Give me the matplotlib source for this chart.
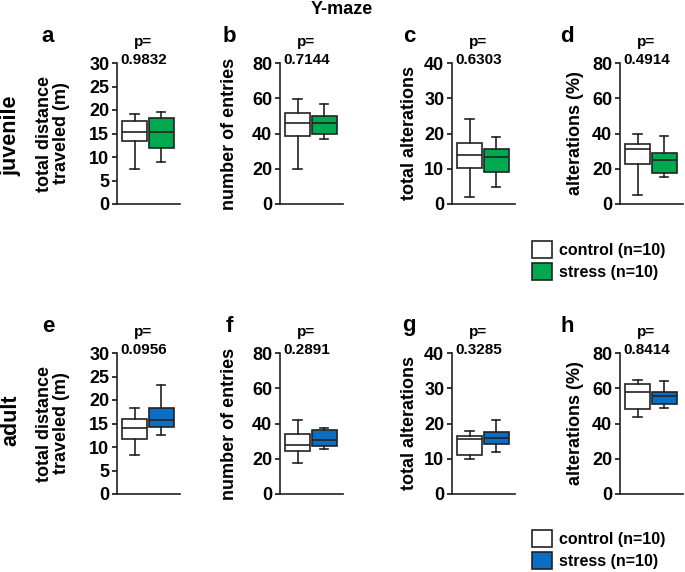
import matplotlib
matplotlib.use('Agg')
import matplotlib.pyplot as plt
from matplotlib.patches import Patch

plt.rcParams['font.family'] = ['Liberation Sans', 'DejaVu Sans']
plt.rcParams['font.weight'] = 'bold'

# box stats per measure: (whisker low, q1, median, q3, whisker high)
juvenile_control = [(7.5, 13.4, 15.4, 17.7, 19.1),
                    (19.8, 38.5, 46.2, 51.7, 59.8),
                    (2.0, 10.1, 13.9, 17.4, 24.0),
                    (5.1, 22.5, 31.1, 34.3, 40.0)]
juvenile_stress = [(9.0, 12.0, 15.3, 18.3, 19.5),
                   (36.8, 40.0, 46.2, 49.8, 57.0),
                   (4.9, 9.2, 13.4, 15.6, 18.9),
                   (15.5, 17.7, 25.0, 28.9, 38.7)]
adult_control = [(8.3, 11.7, 14.1, 15.9, 18.4),
                 (17.7, 24.5, 27.7, 34.2, 41.9),
                 (9.8, 11.0, 15.5, 16.4, 17.9),
                 (43.6, 48.3, 57.9, 62.6, 64.9)]
adult_stress = [(12.6, 14.2, 15.7, 18.3, 23.1),
                (25.8, 27.5, 30.9, 36.4, 37.7),
                (11.8, 14.1, 15.8, 17.5, 20.9),
                (48.9, 51.2, 55.5, 57.9, 64.0)]

p_juvenile = ['0.9832', '0.7144', '0.6303', '0.4914']
p_adult = ['0.0956', '0.2891', '0.3285', '0.8414']
measures = ['total distance\ntraveled (m)', 'number of entries',
            'total alterations', 'alterations (%)']
ymax = [30, 80, 40, 80]
ystep = [5, 20, 10, 20]
letters_juv = ['a', 'b', 'c', 'd']
letters_adult = ['e', 'f', 'g', 'h']

green = '#00a850'
blue = '#0a6fc2'

W, H = 685, 572
fig = plt.figure(figsize=(W / 100, H / 100), dpi=100)

lefts = [117, 280, 452, 620]
ylab_x = [53, 229, 410, 576]
letter_x = [48, 229, 409, 567]


def stats(t):
    lo, q1, med, q3, hi = t
    return dict(whislo=lo, q1=q1, med=med, q3=q3, whishi=hi, fliers=[])


def draw_row(top, ctrl, stress, color, pvals, letters, letter_y):
    for i in range(4):
        ax = fig.add_axes([lefts[i] / W, 1 - (top + 141) / H, 63 / W, 141 / H])
        bp = ax.bxp([stats(ctrl[i]), stats(stress[i])], positions=[1, 2],
                    widths=0.92, patch_artist=True, showfliers=False,
                    capwidths=0.3,
                    boxprops=dict(linewidth=1.2, edgecolor='#222222'),
                    whiskerprops=dict(linewidth=1.2, color='#222222'),
                    capprops=dict(linewidth=1.2, color='#222222'),
                    medianprops=dict(linewidth=1.2, color='#222222'))
        bp['boxes'][0].set_facecolor('white')
        bp['boxes'][1].set_facecolor(color)
        ax.set_xlim(0.35, 2.69)
        ax.set_ylim(0, ymax[i])
        ax.set_yticks(range(0, ymax[i] + 1, ystep[i]))
        ax.set_xticks([])
        for s in ['top', 'right']:
            ax.spines[s].set_visible(False)
        for s in ['left', 'bottom']:
            ax.spines[s].set_linewidth(1.2)
            ax.spines[s].set_color('#222222')
        ax.tick_params(axis='y', length=3.5, width=1.1, labelsize=13, pad=2)
        ax.text(0.42, 1.15, 'p=', transform=ax.transAxes, ha='center',
                va='center', fontsize=11, fontweight='bold')
        ax.text(0.42, 1.02, pvals[i], transform=ax.transAxes, ha='center',
                va='center', fontsize=11, fontweight='bold')
        ax.text((ylab_x[i] - lefts[i]) / 63, 0.5, measures[i], transform=ax.transAxes,
                rotation=90, ha='center', va='center', fontsize=13,
                fontweight='bold', linespacing=1.05)
        fig.text(letter_x[i] / W, 1 - letter_y / H, letters[i], ha='center',
                 va='center', fontsize=16, fontweight='bold')


draw_row(63, juvenile_control, juvenile_stress, green, p_juvenile, letters_juv, 37)
draw_row(353, adult_control, adult_stress, blue, p_adult, letters_adult, 326)

fig.text(342 / W, 1 - 10 / H, 'Y-maze', ha='center', va='center',
         fontsize=13, fontweight='bold')
fig.text(11 / W, 1 - 136 / H, 'juvenile', rotation=90, ha='center',
         va='center', fontsize=15.5, fontweight='bold')
fig.text(11 / W, 1 - 420 / H, 'adult', rotation=90, ha='center',
         va='center', fontsize=15.5, fontweight='bold')

for color, y in [(green, 230), (blue, 519)]:
    handles = [Patch(facecolor='white', edgecolor='#222222', linewidth=1.2),
               Patch(facecolor=color, edgecolor='#222222', linewidth=1.2)]
    fig.legend(handles, ['control (n=10)', 'stress (n=10)'], loc='upper left',
               bbox_to_anchor=(521 / W, 1 - y / H), frameon=False,
               fontsize=11.5, handlelength=1.25, handleheight=1.25,
               handletextpad=0.4, labelspacing=0.3, borderpad=0.2)

fig.savefig('out.png', dpi=100)
